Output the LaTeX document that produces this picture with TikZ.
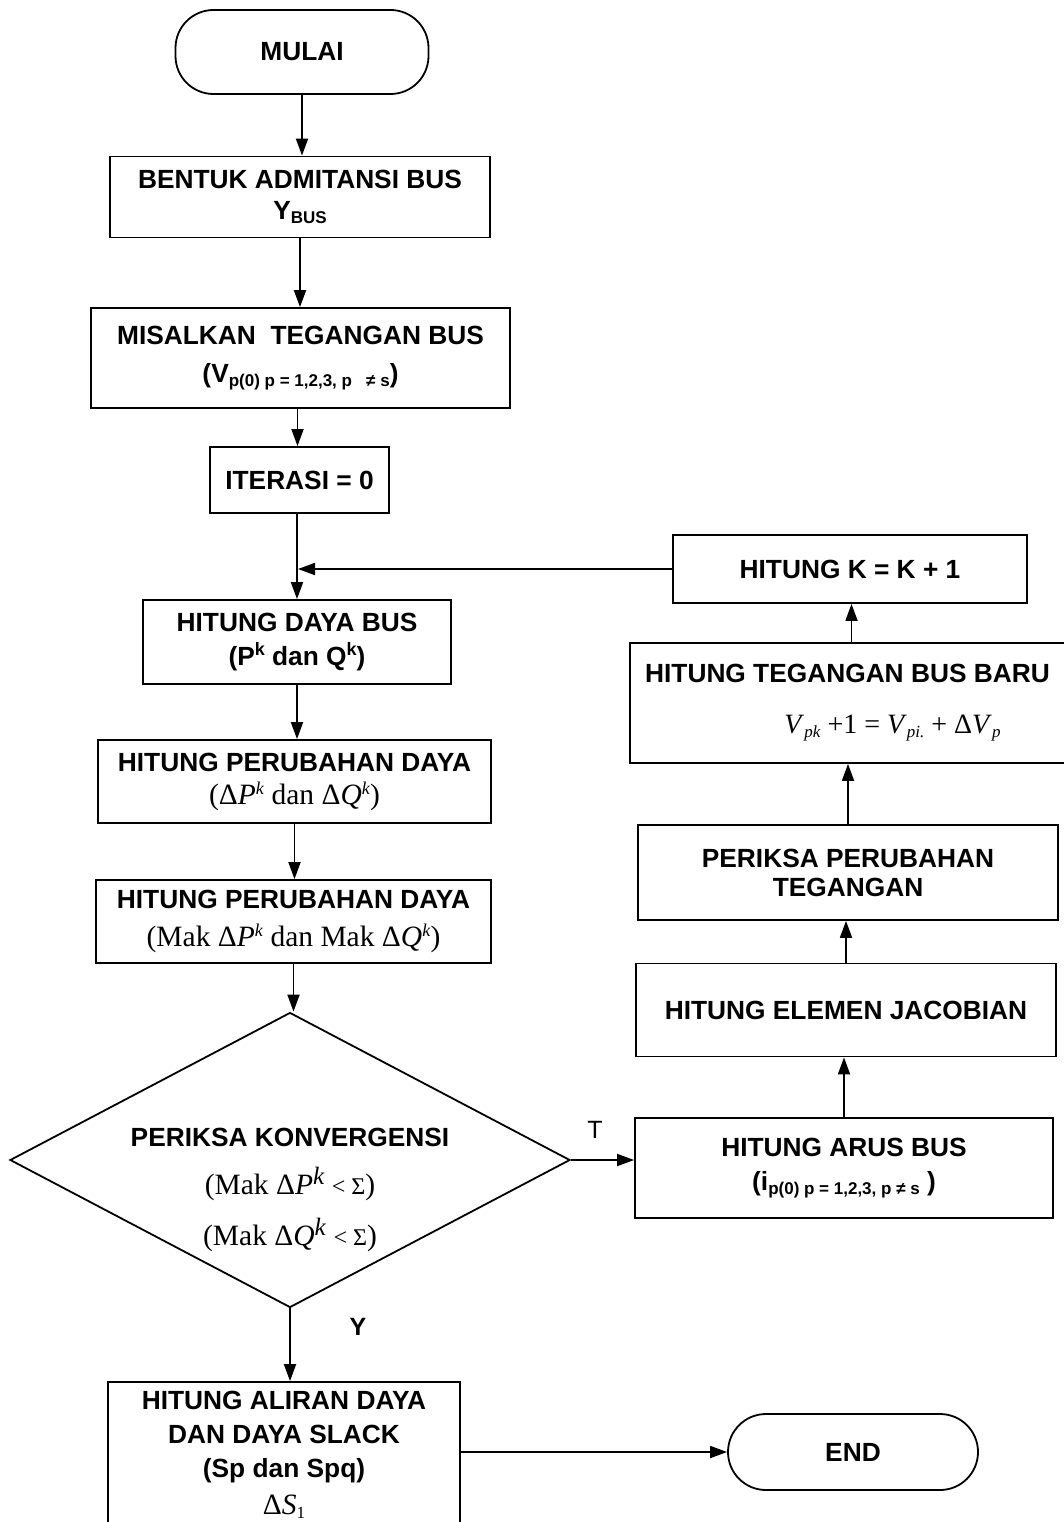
\documentclass[tikz,border=0pt]{standalone}
\usepackage{fontspec}
\setmainfont{Liberation Sans}
\newfontfamily\rmserif{Liberation Serif}
\usetikzlibrary{arrows.meta,shapes.geometric}

\begin{document}
\begin{tikzpicture}[x=1pt,y=-1pt,
  every node/.style={font=\fontsize{26.3}{31}\selectfont\bfseries},
  box/.style={draw, line width=1.8pt, inner sep=0pt, align=center},
  term/.style={box, rounded corners=38pt},
  decision/.style={box, diamond, aspect=1.9},
  flow/.style={line width=1.8pt, -{Triangle[length=17pt,width=12pt]}},
  lbl/.style={font=\fontsize{25}{28}\selectfont}
]
\useasboundingbox (0,0) rectangle (1063,1522);

\newcommand{\subs}[1]{\raisebox{-4pt}{\fontsize{17}{18}\selectfont #1}}
\newcommand{\sups}[1]{\raisebox{10pt}{\fontsize{18}{18}\selectfont #1}}
\newcommand{\ms}[1]{{\rmserif\mdseries\fontsize{29.5}{31}\selectfont #1}}

% left column
\node[term, minimum width=253pt, minimum height=84pt] (mulai) at (302,52) {MULAI};
\node[box, minimum width=380pt, minimum height=81pt] (bentuk) at (300,197)
  {BENTUK ADMITANSI BUS\\Y\subs{BUS}};
\node[box, minimum width=419pt, minimum height=100pt] (misal) at (300.5,358)
  {MISALKAN\ \ TEGANGAN BUS\\[7pt](V\subs{p(0) p = 1,2,3, p \ \ ≠ s})};
\node[box, minimum width=179pt, minimum height=66pt] (iter) at (299.5,480) {ITERASI = 0};
\node[box, minimum width=308pt, minimum height=84pt] (daya) at (297,642)
  {HITUNG DAYA BUS\\[3pt](P\sups{k} dan Q\sups{k})};
\node[box, minimum width=393pt, minimum height=83pt] (ubah) at (294.5,781.5)
  {HITUNG PERUBAHAN DAYA\\[2pt]\ms{(Δ\textit{P}\sups{\textit{k}} dan Δ\textit{Q}\sups{\textit{k}})}};
\node[box, minimum width=395pt, minimum height=83pt] (mak) at (293.5,921.5)
  {HITUNG PERUBAHAN DAYA\\[7pt]\ms{(Mak Δ\textit{P}\sups{\textit{k}} dan Mak Δ\textit{Q}\sups{\textit{k}})}};
\node[decision, minimum width=560pt, minimum height=295pt] (cek) at (290,1160) {};
\node[align=center] (cektext) at ([yshift=-30pt]cek.center)
  {PERIKSA KONVERGENSI\\[17pt]\ms{(Mak Δ\textit{P}\sups{\fontsize{25}{25}\selectfont\textit{k}} {\fontsize{24}{24}\selectfont< Σ})}\\[17pt]\ms{(Mak Δ\textit{Q}\sups{\fontsize{25}{25}\selectfont\textit{k}} {\fontsize{24}{24}\selectfont< Σ})}};
\node[box, minimum width=352pt, minimum height=145pt] (hasil) at (284,1454.5)
  {HITUNG ALIRAN DAYA\\[3pt]DAN DAYA SLACK\\[3pt](Sp dan Spq)\\[6pt]\ms{Δ\textit{S}\subs{1}}};
\node[term, minimum width=250pt, minimum height=76pt] (end) at (853,1452) {END};

% right column
\node[box, minimum width=418pt, minimum height=100pt] (arus) at (844,1168)
  {HITUNG ARUS BUS\\[3pt](i\subs{p(0) p = 1,2,3, p ≠ s} )};
\node[box, minimum width=420pt, minimum height=93pt] (jacob) at (846,1010)
  {HITUNG ELEMEN JACOBIAN};
\node[box, minimum width=420pt, minimum height=95pt] (periksa) at (848,872.5)
  {PERIKSA PERUBAHAN\\[-2pt]TEGANGAN};
\node[box, minimum width=435pt, minimum height=120pt] (teg) at (847.5,703)
  {HITUNG TEGANGAN BUS BARU\\[20pt]\hspace*{90pt}\ms{\fontsize{28}{31}\selectfont\textit{V}\subs{\textit{pk}} +1 = \textit{V}\subs{\textit{pi.}} + Δ\textit{V}\subs{\textit{p}}}};
\node[box, minimum width=354pt, minimum height=68pt] (hitk) at (850,569)
  {HITUNG K = K + 1};

% connectors, main column
\draw[flow] (mulai.south) -- (mulai.south |- bentuk.north);
\draw[flow] (bentuk.south) -- (bentuk.south |- misal.north);
\draw[flow] ([xshift=-3pt]misal.south) -- ([xshift=-3pt]misal.south |- iter.north);
\coordinate (join) at ([xshift=-2.5pt]iter.south |- hitk.west);
\draw[flow] ([xshift=-2.5pt]iter.south) -- ([xshift=-2.5pt]iter.south |- daya.north);
\draw[flow] (hitk.west) -- ([xshift=1pt]join);
\draw[flow] (daya.south) -- (daya.south |- ubah.north);
\draw[flow] (ubah.south) -- (ubah.south |- mak.north);
\draw[flow] (mak.south) -- (mak.south |- cek.north);
\draw[flow] (cek.south) -- (cek.south |- hasil.north);
\draw[flow] (hasil.east |- end.west) -- (end.west);

% connectors, loop column
\draw[flow] (cek.east) -- (cek.east -| arus.west);
\draw[flow] (arus.north) -- (arus.north |- jacob.south);
\draw[flow] (jacob.north) -- (jacob.north |- periksa.south);
\draw[flow] (periksa.north) -- (periksa.north |- teg.south);
\draw[flow] ([xshift=4pt]teg.north) -- ([xshift=4pt]teg.north |- hitk.south);

% branch labels
\node[lbl] (tlabel) at (595,1130) {T};
\node[lbl] (ylabel) at (358,1327) {\textbf{Y}};
\end{tikzpicture}
\end{document}
